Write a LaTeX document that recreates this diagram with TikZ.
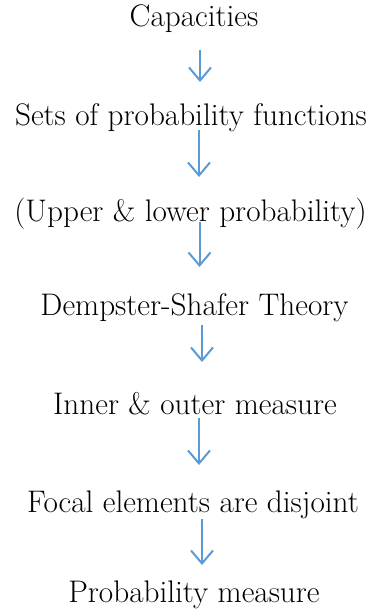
\documentclass[tikz,border=0pt]{standalone}
\usetikzlibrary{arrows.meta}
\definecolor{arrowblue}{HTML}{5B9BD5}
\tikzset{
  lbl/.style={anchor=base, inner sep=0pt, font=\fontsize{31.2}{37}\selectfont},
  flow/.style={draw=arrowblue, line width=2pt, -{Straight Barb[length=13pt,width=22pt,line width=2pt]}}
}
\begin{document}
\begin{tikzpicture}[x=1pt,y=-1pt]
\useasboundingbox (0,0) rectangle (377,615);
\node[lbl] (n1) at (194,27) {Capacities};
\node[lbl] (n2) at (191,125) {Sets of probability functions};
\node[lbl] (n3) at (190.5,221) {(Upper \& lower probability)};
\node[lbl] (n4) at (194.5,315) {Dempster-Shafer Theory};
\node[lbl] (n5) at (195,414) {Inner \& outer measure};
\node[lbl] (n6) at (193,512) {Focal elements are disjoint};
\node[lbl] (n7) at (194,602) {Probability measure};
\coordinate (s1) at (200,50);   \coordinate (e1) at (200,82);
\coordinate (s2) at (199,130);  \coordinate (e2) at (199,177);
\coordinate (s3) at (199.5,222);\coordinate (e3) at (199.5,267);
\coordinate (s4) at (202,325);  \coordinate (e4) at (202,362);
\coordinate (s5) at (199,418);  \coordinate (e5) at (199,465);
\coordinate (s6) at (202,519);  \coordinate (e6) at (202,565);
\draw[flow] (s1) -- (e1);
\draw[flow] (s2) -- (e2);
\draw[flow] (s3) -- (e3);
\draw[flow] (s4) -- (e4);
\draw[flow] (s5) -- (e5);
\draw[flow] (s6) -- (e6);
\end{tikzpicture}
\end{document}
